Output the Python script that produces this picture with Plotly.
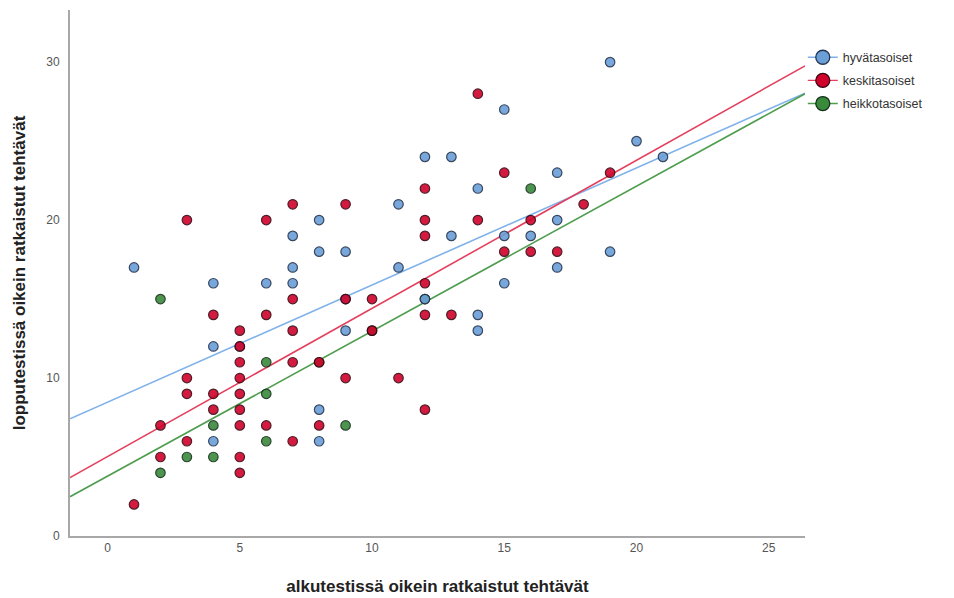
import plotly.graph_objects as go
import numpy as np

# --- data ---
groups = ["hyvätasoiset", "keskitasoiset", "heikkotasoiset"]

hyva_x = [1, 4, 4, 4, 5, 6, 7, 7, 7, 8, 8, 8, 8, 9, 9, 9, 11, 11, 12, 12, 13, 13, 14, 14, 14, 15, 15, 15, 16, 17, 17, 17, 19, 19, 20, 21]
hyva_y = [17, 16, 12, 6, 12, 16, 16, 17, 19, 20, 18, 8, 6, 18, 15, 13, 21, 17, 24, 15, 24, 19, 22, 14, 13, 27, 19, 16, 19, 23, 20, 17, 30, 18, 25, 24]

keski_x = [1, 2, 2, 3, 3, 3, 3, 4, 4, 4, 5, 5, 5, 5, 5, 5, 5, 5, 5, 6, 6, 6, 7, 7, 7, 7, 7, 8, 8, 9, 9, 9, 10, 10, 11, 12, 12, 12, 12, 12, 12, 13, 14, 14, 15, 15, 16, 16, 17, 18, 19]
keski_y = [2, 7, 5, 20, 10, 9, 6, 14, 9, 8, 13, 12, 11, 10, 9, 8, 7, 5, 4, 20, 14, 7, 21, 15, 13, 11, 6, 11, 7, 21, 15, 10, 15, 13, 10, 22, 20, 19, 16, 14, 8, 14, 28, 20, 23, 18, 20, 18, 18, 21, 23]

heikko_x = [2, 2, 3, 4, 4, 6, 6, 6, 8, 9, 10, 12, 16]
heikko_y = [15, 4, 5, 7, 5, 11, 9, 6, 11, 7, 13, 15, 22]

# fit lines (intercept, slope)
fit_intercept = [8.47, 5.03, 3.79]
fit_slope = [0.742, 0.938, 0.918]

x_ticks = [0, 5, 10, 15, 20, 25]
y_ticks = [0, 10, 20, 30]

# --- styling ---
fill_cols = ["#6a9fd8", "#d0022b", "#3a8a3c"]
edge_cols = ["#24344f", "#3a0612", "#14301a"]
line_cols = ["#80b2ea", "#e4405e", "#4f9d4f"]

XR = [-1.42, 26.37]
YR = [0, 33.3]

fig = go.Figure()

xs_all = [hyva_x, keski_x, heikko_x]
ys_all = [hyva_y, keski_y, heikko_y]

# lines
xl = np.array(XR)
for i in range(3):
    fig.add_trace(go.Scatter(
        x=xl, y=fit_intercept[i] + fit_slope[i] * xl, mode="lines",
        line=dict(color=line_cols[i], width=1.6), showlegend=False, hoverinfo="skip"))

# points (green first, then blue, then red on top)
for i in [2, 0, 1]:
    fig.add_trace(go.Scatter(
        x=xs_all[i], y=ys_all[i], mode="markers",
        marker=dict(size=9.5, color=fill_cols[i], opacity=0.9,
                    line=dict(color=edge_cols[i], width=1.2)),
        showlegend=False, name=groups[i]))

# legend entries, one legend each for spacing control
legend_names = ["legend", "legend2", "legend3"]
legend_tops = [0.938, 0.894, 0.850]
for i in range(3):
    fig.add_trace(go.Scatter(
        x=[None], y=[None], mode="lines+markers", name=groups[i],
        legend=legend_names[i],
        marker=dict(size=14, color=fill_cols[i], line=dict(color=edge_cols[i], width=1.3)),
        line=dict(color=line_cols[i], width=1.4)))

leg_common = dict(x=0.997, xanchor="left", yanchor="top",
                  font=dict(size=12.5, color="#333"), bgcolor="rgba(0,0,0,0)",
                  itemwidth=30)
fig.update_layout(
    width=954, height=598,
    margin=dict(l=70, r=149, t=10, b=62),
    plot_bgcolor="white", paper_bgcolor="white",
    font=dict(family="Liberation Sans, Arial, sans-serif", color="#444"),
    legend=dict(y=legend_tops[0], **leg_common),
    legend2=dict(y=legend_tops[1], **leg_common),
    legend3=dict(y=legend_tops[2], **leg_common),
    showlegend=True,
)
fig.update_xaxes(
    range=XR, tickvals=x_ticks, ticktext=[str(v) for v in x_ticks],
    showgrid=False, zeroline=False, showline=True, linecolor="#a8a8a8", linewidth=2,
    ticks="", tickfont=dict(size=12, color="#555"), automargin=False,
    title=dict(text="<b>alkutestissä oikein ratkaistut tehtävät</b>",
               font=dict(size=17, color="#222"), standoff=26))
fig.update_yaxes(
    range=YR, tickvals=y_ticks, ticktext=[str(v) for v in y_ticks],
    showgrid=False, zeroline=False, showline=True, linecolor="#a8a8a8", linewidth=2,
    ticks="", tickfont=dict(size=12, color="#555"), ticklabelstandoff=6,
    automargin=False,
    title=dict(text="<b>lopputestissä oikein ratkaistut tehtävät</b>",
               font=dict(size=17, color="#222"), standoff=16))

fig.write_html("out.html")
